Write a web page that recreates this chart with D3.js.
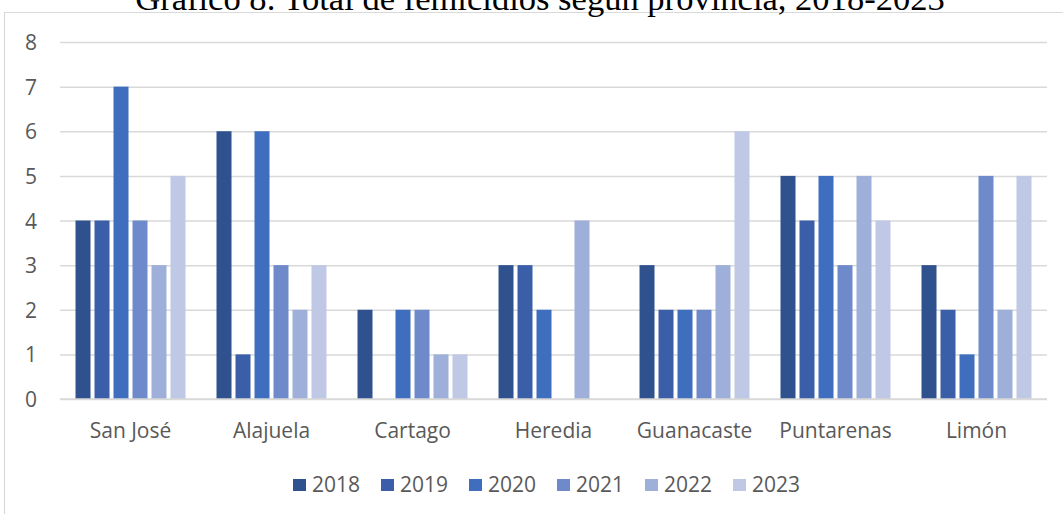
<!DOCTYPE html>
<html>
<head>
<meta charset="utf-8">
<script src="https://cdn.jsdelivr.net/npm/d3@7"></script>
<style>
  html, body { margin: 0; padding: 0; background: #fff; overflow: hidden; }
  svg { display: block; }
</style>
</head>
<body>
<svg id="chart" width="1063" height="514"></svg>
<script>
const titleText = "Gráfico 8. Total de femicidios según provincia, 2018-2023";
const provinces = ["San José", "Alajuela", "Cartago", "Heredia", "Guanacaste", "Puntarenas", "Limón"];
const years = ["2018", "2019", "2020", "2021", "2022", "2023"];
const yTicks = [0, 1, 2, 3, 4, 5, 6, 7, 8];
const v2018 = [4, 6, 2, 3, 3, 5, 3];
const v2019 = [4, 1, 0, 3, 2, 4, 2];
const v2020 = [7, 6, 2, 2, 2, 5, 1];
const v2021 = [4, 3, 2, 0, 2, 3, 5];
const v2022 = [3, 2, 1, 4, 3, 5, 2];
const v2023 = [5, 3, 1, 0, 6, 4, 5];
const colors = ["#2F528F", "#3A5FA8", "#3F6EBE", "#6F8ACB", "#9EAFD9", "#BFC9E5"];

const seriesValues = [v2018, v2019, v2020, v2021, v2022, v2023];
const rows = [];
years.forEach((yr, si) => {
  provinces.forEach((p, pi) => rows.push({ year: yr, province: p, value: seriesValues[si][pi], si }));
});

const svg = d3.select("#chart");
const W = 1063, H = 514;
const plotLeft = 60, plotRight = 1047, plotTop = 42, plotBottom = 399;
const textFont = "'Open Sans', 'Noto Sans', sans-serif";
const textColor = "#595959";
const gridColor = "#d9d9d9";
const fs = 21;

// chart frame
svg.append("path")
  .attr("d", `M4.5,${H + 2} L4.5,12.5 L${W + 2},12.5`)
  .attr("fill", "none").attr("stroke", gridColor).attr("stroke-width", 1.2);

// title (clipped at top, as in reference)
const title = svg.append("text")
  .attr("x", 540).attr("y", 9.5)
  .attr("text-anchor", "middle")
  .attr("font-family", "'Liberation Serif', 'DejaVu Serif', serif")
  .attr("font-size", 28)
  .attr("fill", "#000")
  .text(titleText);
const tw = title.node().getComputedTextLength();
title.attr("font-size", 28 * 810 / tw);

const x0 = d3.scaleBand().domain(provinces).range([plotLeft, plotRight]).paddingInner(0.22).paddingOuter(0.11);
const x1 = d3.scaleBand().domain(years).range([0, x0.bandwidth()]).paddingInner(4 / 19);
const y = d3.scaleLinear().domain([0, 8]).range([plotBottom, plotTop]);

// gridlines
const yAxis = d3.axisLeft(y).tickValues(yTicks).tickSize(-(plotRight - plotLeft)).tickPadding(23).tickFormat(d3.format("d"));
const gy = svg.append("g").attr("transform", `translate(${plotLeft},0)`).call(yAxis);
gy.select(".domain").remove();
gy.selectAll(".tick line").attr("stroke", gridColor).attr("stroke-width", 1.5);
gy.selectAll(".tick text").attr("font-family", textFont).attr("font-size", fs).attr("fill", textColor).attr("dy", "0.36em");

// bars
svg.append("g").selectAll("rect").data(rows.filter(d => d.value > 0)).join("rect")
  .attr("x", d => x0(d.province) + x1(d.year))
  .attr("width", x1.bandwidth())
  .attr("y", d => y(d.value))
  .attr("height", d => y(0) - y(d.value))
  .attr("fill", d => colors[d.si]);

// baseline
svg.append("line").attr("x1", plotLeft).attr("x2", plotRight).attr("y1", y(0)).attr("y2", y(0))
  .attr("stroke", gridColor).attr("stroke-width", 1.5);

// x axis labels
const xAxis = d3.axisBottom(x0).tickSize(0).tickPadding(0);
const gx = svg.append("g").attr("transform", `translate(0,${plotBottom})`).call(xAxis);
gx.select(".domain").remove();
gx.selectAll(".tick text").attr("font-family", textFont).attr("font-size", fs).attr("fill", textColor)
  .attr("dy", null).attr("y", 39);

// legend
const lx = d3.scalePoint().domain(years).range([293, 733]);
const lg = svg.append("g").selectAll("g").data(years).join("g")
  .attr("transform", d => `translate(${lx(d)},0)`);
lg.append("rect").attr("x", 0).attr("y", 479).attr("width", 13).attr("height", 12)
  .attr("fill", (d, i) => colors[i]);
lg.append("text").attr("x", 19).attr("y", 492)
  .attr("font-family", textFont).attr("font-size", fs).attr("fill", textColor)
  .text(d => d);
</script>
</body>
</html>
